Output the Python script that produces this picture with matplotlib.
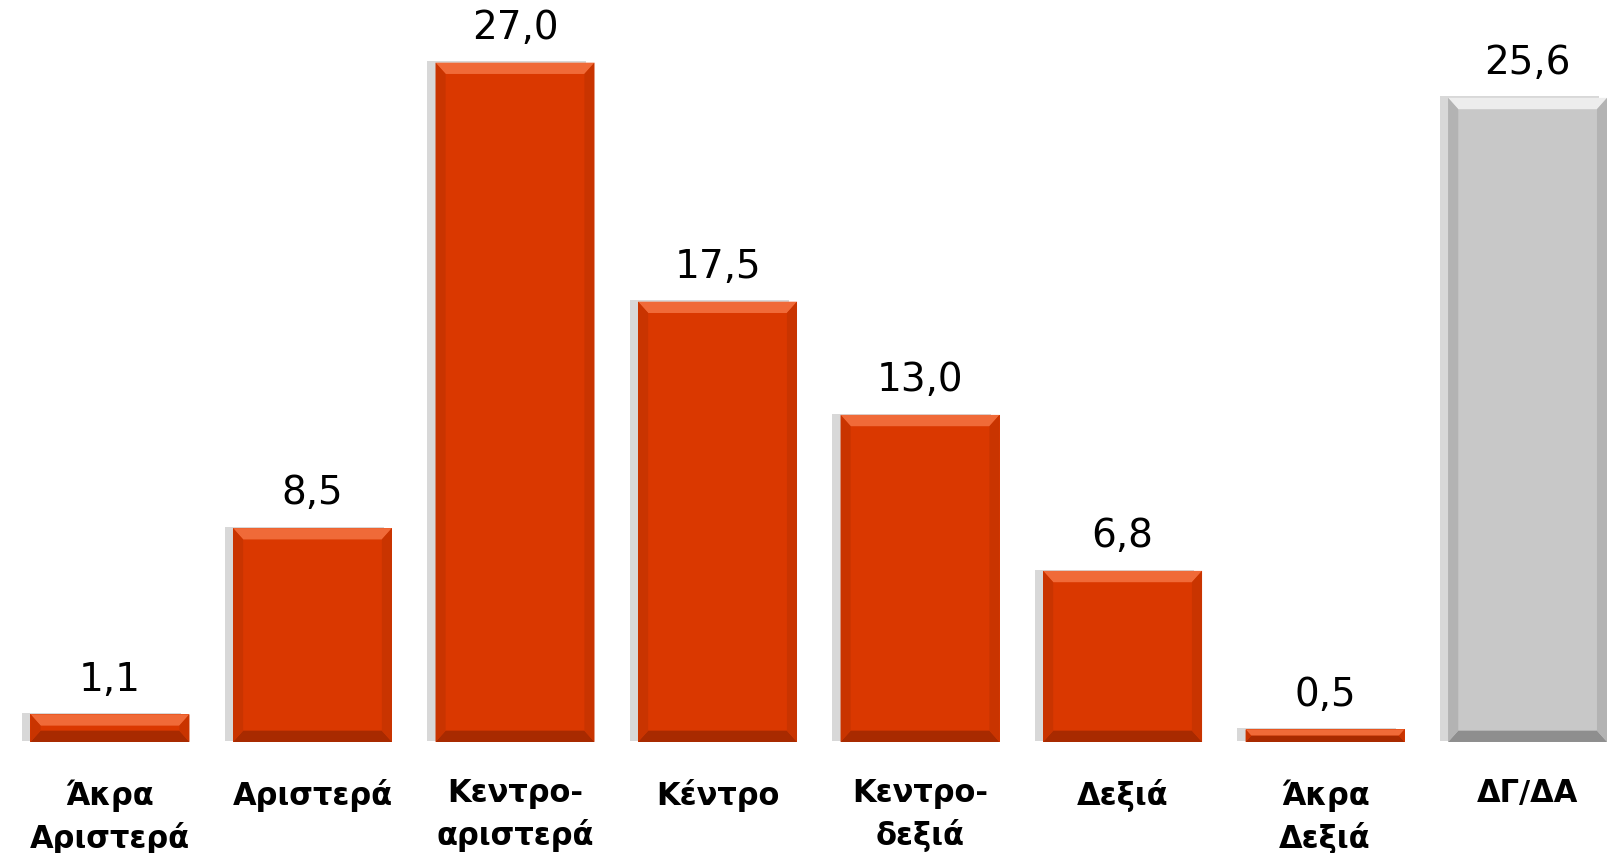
import numpy as np
import matplotlib.pyplot as plt
from matplotlib.patches import Polygon
import matplotlib.patheffects as pe

plt.rcParams['font.family'] = ['DejaVu Sans']

# data
categories = ['Άκρα\nΑριστερά', 'Αριστερά', 'Κεντρο-\nαριστερά', 'Κέντρο',
              'Κεντρο-\nδεξιά', 'Δεξιά', 'Άκρα\nΔεξιά', 'ΔΓ/ΔΑ']
values = [1.1, 8.5, 27.0, 17.5, 13.0, 6.8, 0.5, 25.6]
value_labels = ['1,1', '8,5', '27,0', '17,5', '13,0', '6,8', '0,5', '25,6']

RED = ('#DA3800', '#F06A38', '#A82A00', '#C93400')   # face, top, bottom, sides
GRAY = ('#C8C8C8', '#EDEDED', '#8E8E8E', '#B3B3B3')
styles = [RED] * 7 + [GRAY]

fig = plt.figure(figsize=(16.08, 8.54), dpi=100)
ax = fig.add_axes([0, 0.13, 1, 0.87])

x = np.arange(len(values))
width = 0.785
bars = ax.bar(x, values, width=width, color=[s[0] for s in styles],
              edgecolor='none', zorder=2)
for b in bars:
    b.set_path_effects([pe.SimplePatchShadow(offset=(-6, 1), shadow_rgbFace='#909090', alpha=0.35),
                        pe.Normal()])

# bevel edges
bx = 0.05
by_full = 0.45
for b, st in zip(bars, styles):
    x0, x1 = b.get_x(), b.get_x() + b.get_width()
    h = b.get_height()
    by = min(by_full, h / 2)
    bxx = bx * by / by_full
    top = Polygon([(x0, h), (x1, h), (x1 - bxx, h - by), (x0 + bxx, h - by)], color=st[1], zorder=3, lw=0)
    bot = Polygon([(x0, 0), (x1, 0), (x1 - bxx, by), (x0 + bxx, by)], color=st[2], zorder=3, lw=0)
    left = Polygon([(x0, 0), (x0 + bxx, by), (x0 + bxx, h - by), (x0, h)], color=st[3], zorder=3, lw=0)
    right = Polygon([(x1, 0), (x1 - bxx, by), (x1 - bxx, h - by), (x1, h)], color=st[3], zorder=3, lw=0)
    for p in (top, bot, left, right):
        ax.add_patch(p)

for b, lab in zip(bars, value_labels):
    ax.annotate(lab, (b.get_x() + b.get_width() / 2, b.get_height()),
                xytext=(0, 12), textcoords='offset points', ha='center', va='bottom',
                fontsize=28, color='black')

ax.set_xticks(x)
ax.set_xticklabels(categories, fontsize=22, fontweight='bold', linespacing=1.4)
ax.tick_params(axis='x', length=0, pad=26)
ax.set_yticks([])
for s in ax.spines.values():
    s.set_visible(False)
ax.set_xlim(-0.543, 7.397)
ax.set_ylim(0, 29.53)

fig.savefig('out.png', dpi=100)
